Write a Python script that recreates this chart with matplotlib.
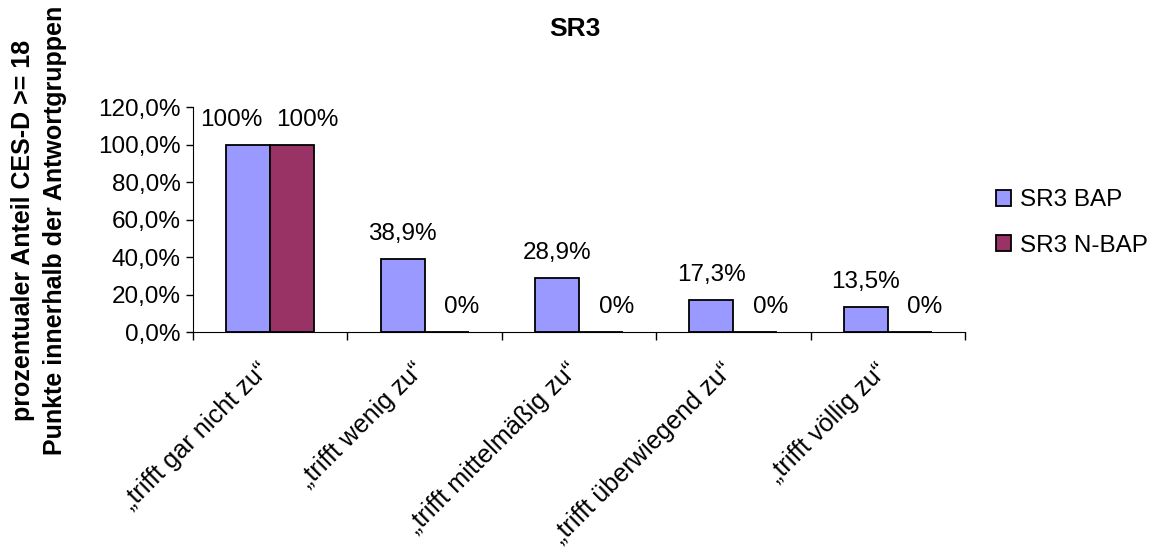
import matplotlib.pyplot as plt
import matplotlib.transforms as mtransforms
import numpy as np

plt.rcParams['font.family'] = ['Liberation Sans', 'DejaVu Sans']

categories = ['„trifft gar nicht zu“', '„trifft wenig zu“', '„trifft mittelmäßig zu“',
              '„trifft überwiegend zu“', '„trifft völlig zu“']
bap = [100.0, 38.9, 28.9, 17.3, 13.5]
nbap = [100.0, 0.0, 0.0, 0.0, 0.0]
series_names = ['SR3 BAP', 'SR3 N-BAP']
y_ticks = [0, 20, 40, 60, 80, 100, 120]


def pct_label(v):
    """ German style percent: 100% / 38,9% """
    if float(v).is_integer():
        return '%d%%' % v
    return ('%.1f%%' % v).replace('.', ',')


fig = plt.figure(figsize=(11.62, 5.49), dpi=100)
ax = fig.add_axes([0.166, 0.395, 0.6645, 0.41])

x = np.arange(len(categories))
width = 0.285
b1 = ax.bar(x - width / 2, bap, width, color='#9999FF', edgecolor='black', linewidth=1.3,
            label=series_names[0])
b2 = ax.bar(x + width / 2, nbap, width, color='#993366', edgecolor='black', linewidth=1.3,
            label=series_names[1])

# value labels; push them sideways where two labels would collide
for i in range(len(categories)):
    dx_left = -12 if bap[i] == nbap[i] else 0
    for rect, v, dx in ((b1[i], bap[i], dx_left), (b2[i], nbap[i], 11)):
        ax.annotate(pct_label(v), (rect.get_x() + rect.get_width() / 2, v),
                    xytext=(dx, 13.5), textcoords='offset points',
                    ha='center', va='baseline', fontsize=17.5)

ax.set_xlim(-0.5, len(categories) - 0.5)
ax.set_ylim(0, 120)
ax.set_yticks(y_ticks)
ax.set_yticklabels([('%.1f%%' % t).replace('.', ',') for t in y_ticks], fontsize=17.5)
ax.tick_params(axis='y', length=5, width=1, pad=4)

ax.set_xticks(x)
ax.set_xticklabels(categories, rotation=45, ha='right', va='top', rotation_mode='anchor',
                   fontsize=18.2)
ax.tick_params(axis='x', which='major', length=0, pad=19)
ax.set_xticks(np.arange(len(categories) + 1) - 0.5, minor=True)
ax.tick_params(axis='x', which='minor', length=6, width=1)

# nudge the slanted category names a little to the left
shift = mtransforms.ScaledTranslation(-0.13, 0, fig.dpi_scale_trans)
for lbl in ax.get_xticklabels():
    lbl.set_transform(lbl.get_transform() + shift)

ax.spines['top'].set_visible(False)
ax.spines['right'].set_visible(False)

fig.text(575 / 1162, 1 - 29 / 549, 'SR3', ha='center', va='center',
         fontsize=19, fontweight='bold')
fig.text(39 / 1162, 1 - 230 / 549,
         'prozentualer Anteil CES-D >= 18\nPunkte innerhalb der Antwortgruppen',
         rotation=90, ha='center', va='center', multialignment='center',
         linespacing=1.4, fontsize=18, fontweight='bold')

ax.legend(loc='center left', bbox_to_anchor=(1.012, 0.485), frameon=False, fontsize=17.5,
          handlelength=0.6, handleheight=0.6, handletextpad=0.4, labelspacing=0.95)

plt.savefig('out.png', dpi=100)
plt.close()
